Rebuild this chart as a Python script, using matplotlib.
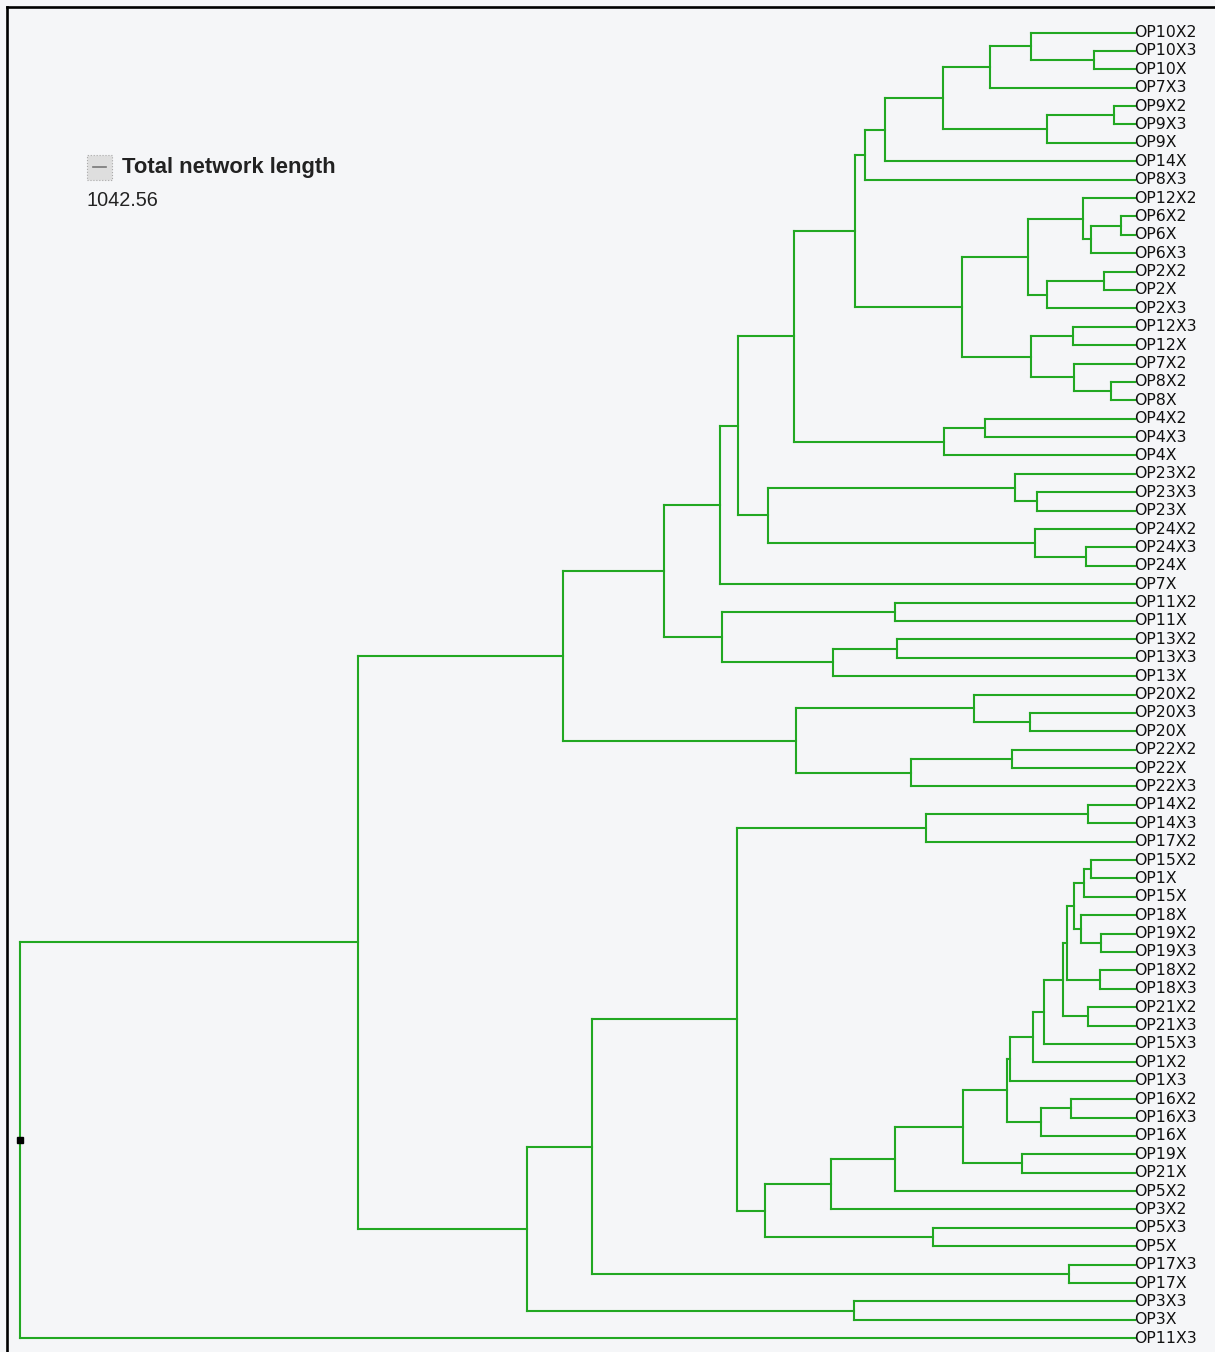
import matplotlib
matplotlib.use('Agg')
import matplotlib.pyplot as plt
from matplotlib.lines import Line2D
from matplotlib.patches import Rectangle

# Leaf labels, top to bottom
leaves = ['OP10X2', 'OP10X3', 'OP10X', 'OP7X3', 'OP9X2', 'OP9X3', 'OP9X', 'OP14X',
          'OP8X3', 'OP12X2', 'OP6X2', 'OP6X', 'OP6X3', 'OP2X2', 'OP2X', 'OP2X3',
          'OP12X3', 'OP12X', 'OP7X2', 'OP8X2', 'OP8X', 'OP4X2', 'OP4X3', 'OP4X',
          'OP23X2', 'OP23X3', 'OP23X', 'OP24X2', 'OP24X3', 'OP24X', 'OP7X',
          'OP11X2', 'OP11X', 'OP13X2', 'OP13X3', 'OP13X', 'OP20X2', 'OP20X3',
          'OP20X', 'OP22X2', 'OP22X', 'OP22X3', 'OP14X2', 'OP14X3', 'OP17X2',
          'OP15X2', 'OP1X', 'OP15X', 'OP18X', 'OP19X2', 'OP19X3', 'OP18X2',
          'OP18X3', 'OP21X2', 'OP21X3', 'OP15X3', 'OP1X2', 'OP1X3', 'OP16X2',
          'OP16X3', 'OP16X', 'OP19X', 'OP21X', 'OP5X2', 'OP3X2', 'OP5X3', 'OP5X',
          'OP17X3', 'OP17X', 'OP3X3', 'OP3X', 'OP11X3']

# Internal nodes n0, n1, ... : children pairs
links = [
    ('OP10X3', 'OP10X'), ('OP10X2', 'n0'), ('n1', 'OP7X3'), ('OP9X2', 'OP9X3'),
    ('n3', 'OP9X'), ('n2', 'n4'), ('n5', 'OP14X'), ('n6', 'OP8X3'),
    ('OP6X2', 'OP6X'), ('n8', 'OP6X3'), ('OP12X2', 'n9'), ('OP2X2', 'OP2X'),
    ('n11', 'OP2X3'), ('n10', 'n12'), ('OP12X3', 'OP12X'), ('OP8X2', 'OP8X'),
    ('OP7X2', 'n15'), ('n14', 'n16'), ('n13', 'n17'), ('n7', 'n18'),
    ('OP4X2', 'OP4X3'), ('n20', 'OP4X'), ('n19', 'n21'), ('OP23X3', 'OP23X'),
    ('OP23X2', 'n23'), ('OP24X3', 'OP24X'), ('OP24X2', 'n25'), ('n24', 'n26'),
    ('n22', 'n27'), ('n28', 'OP7X'), ('OP11X2', 'OP11X'), ('OP13X2', 'OP13X3'),
    ('n31', 'OP13X'), ('n30', 'n32'), ('n29', 'n33'), ('OP20X3', 'OP20X'),
    ('OP20X2', 'n35'), ('OP22X2', 'OP22X'), ('n37', 'OP22X3'), ('n36', 'n38'),
    ('n34', 'n39'), ('OP14X2', 'OP14X3'), ('n41', 'OP17X2'), ('OP15X2', 'OP1X'),
    ('n43', 'OP15X'), ('OP19X2', 'OP19X3'), ('OP18X', 'n45'), ('n44', 'n46'),
    ('OP18X2', 'OP18X3'), ('n47', 'n48'), ('OP21X2', 'OP21X3'), ('n49', 'n50'),
    ('n51', 'OP15X3'), ('n52', 'OP1X2'), ('n53', 'OP1X3'), ('OP16X2', 'OP16X3'),
    ('n55', 'OP16X'), ('n54', 'n56'), ('OP19X', 'OP21X'), ('n57', 'n58'),
    ('n59', 'OP5X2'), ('n60', 'OP3X2'), ('OP5X3', 'OP5X'), ('n61', 'n62'),
    ('n42', 'n63'), ('OP17X3', 'OP17X'), ('n64', 'n65'), ('OP3X3', 'OP3X'),
    ('n66', 'n67'), ('n40', 'n68'), ('n69', 'OP11X3'),
]

# Distance of each internal node from the root
heights = [1074, 1011, 970, 1094, 1027, 923, 865, 845,
           1101, 1071, 1063, 1084, 1027, 1008, 1053, 1091,
           1054, 1011, 942, 835, 965, 924, 774, 1017,
           995, 1066, 1015, 748, 718, 700, 875, 877,
           813, 702, 644, 1010, 954, 992, 891, 776,
           543, 1068, 906, 1071, 1064, 1081, 1061, 1054,
           1080, 1047, 1068, 1043, 1024, 1013, 990, 1051,
           1021, 987, 1002, 943, 875, 811, 913, 745,
           717, 1049, 572, 834, 507, 338, 0]

leaf_depth = 1115
total_length = '1042.56'

GREEN = '#22a822'
BG = '#f5f6f8'

W, H = 1215, 1352
fig = plt.figure(figsize=(W / 100, H / 100), dpi=100, facecolor=BG)
ax = fig.add_axes([0, 0, 1, 1])
ax.set_facecolor(BG)
top, step = 32.5, 18.39
ax.set_xlim(-20, W - 20)
ax.set_ylim((H - top) / step, -top / step)
ax.axis('off')

# node positions
pos = {name: (leaf_depth, i) for i, name in enumerate(leaves)}
for k, ((a, b), h) in enumerate(zip(links, heights)):
    ya, yb = pos[a][1], pos[b][1]
    pos['n%d' % k] = (h, (ya + yb) / 2)
    ax.plot([h, h], [ya, yb], color=GREEN, lw=1.5, solid_capstyle='projecting')
    for c in (a, b):
        cx, cy = pos[c]
        ax.plot([h, cx], [cy, cy], color=GREEN, lw=1.5, solid_capstyle='projecting')

# root marker
rx, ry = pos['n%d' % (len(links) - 1)]
ax.plot(rx, ry, marker='s', color='black', ms=4)

for i, name in enumerate(leaves):
    ax.text(leaf_depth - 1, i, name, ha='left', va='center', fontsize=11.3,
            family='DejaVu Sans', color='#111111')

# header box
fig.add_artist(Rectangle((87 / W, 1 - 180 / H), 25 / W, 25 / H, transform=fig.transFigure,
                         facecolor='#dedede', edgecolor='#aaaaaa', lw=0.8, ls=':'))
fig.add_artist(Line2D([93 / W, 106 / W], [1 - 167 / H, 1 - 167 / H], color='#777777', lw=1.2))
fig.text(122 / W, 1 - 167 / H, 'Total network length', ha='left', va='center',
         fontsize=15.8, fontweight='bold', family='Liberation Sans', color='#222222')
fig.text(87 / W, 1 - 200 / H, total_length, ha='left', va='center',
         fontsize=14.3, family='Liberation Sans', color='#222222')

# frame
fig.add_artist(Line2D([7 / W, 7 / W], [0, 1 - 7 / H], color='black', lw=1.9))
fig.add_artist(Line2D([7 / W, 1], [1 - 7 / H, 1 - 7 / H], color='black', lw=1.9))

fig.savefig('out.png', dpi=100, facecolor=BG)
